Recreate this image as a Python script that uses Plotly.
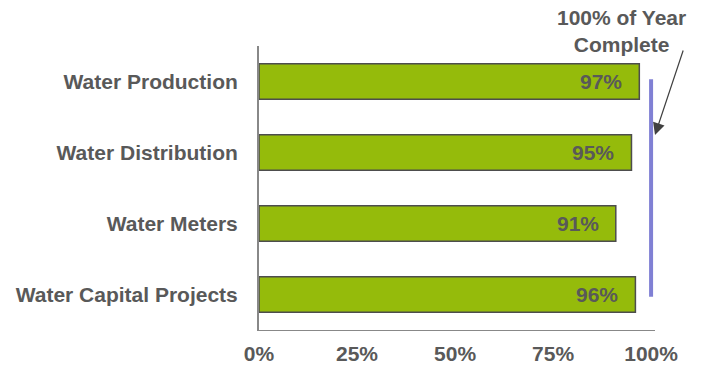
import plotly.graph_objects as go

categories = ["Water Production", "Water Distribution", "Water Meters", "Water Capital Projects"]
values = [97, 95, 91, 96]
tick_vals = [0, 25, 50, 75, 100]
tick_text = ["0%", "25%", "50%", "75%", "100%"]
year_complete = 100

FONT = "Liberation Sans, Arial, Helvetica, sans-serif"
GREY = "#595959"

L, R, T, B = 259, 52, 46, 41
PW, PH = 707 - L - R, 371 - T - B

fig = go.Figure()
fig.add_trace(go.Bar(
    y=categories, x=values, orientation="h", width=0.5,
    marker=dict(color="#95bb0b", line=dict(color="#4d4d4d", width=1.5)),
    hoverinfo="skip",
))

for c, v in zip(categories, values):
    fig.add_annotation(x=v, y=c, text=f"{v}%", showarrow=False, xanchor="right",
                       xshift=-15, font=dict(family=FONT, size=21, color=GREY, weight="bold"))

# 100% of year line
fig.add_shape(type="line", x0=year_complete, x1=year_complete, y0=-0.03, y1=3.03,
              xref="x", yref="y", line=dict(color="#8080d4", width=4))

fig.add_annotation(x=(655 - L) / PW, y=(330 - 135) / PH, xref="paper", yref="paper", text=" ",
                   showarrow=True, ax=29, ay=-87, arrowhead=2, arrowsize=2, arrowwidth=1.2,
                   arrowcolor="#404040", font=dict(size=2))
fig.add_annotation(x=(621 - L) / PW, y=(330 - 31) / PH, xref="paper", yref="paper",
                   xanchor="center", yanchor="middle", text="100% of Year<br>Complete",
                   showarrow=False, font=dict(family=FONT, size=21, color=GREY, weight="bold"))

fig.update_layout(
    width=707, height=371,
    margin=dict(l=L, r=R, t=T, b=B, autoexpand=False),
    plot_bgcolor="white", paper_bgcolor="white",
    showlegend=False,
    font=dict(family=FONT, size=21, color=GREY, weight="bold"),
    xaxis=dict(range=[0, 101], tickvals=tick_vals, ticktext=tick_text, showgrid=False,
               zeroline=False, showline=True, linecolor="#888888", linewidth=1,
               ticks="outside", ticklen=5, tickcolor="rgba(0,0,0,0)", automargin=False,
               tickfont=dict(family=FONT, size=21, color=GREY, weight="bold")),
    yaxis=dict(categoryorder="array", categoryarray=categories[::-1], range=[-0.5, 3.5],
               showgrid=False, zeroline=False, showline=True, linecolor="#888888", linewidth=2,
               ticks="", ticklabelstandoff=15, automargin=False,
               tickfont=dict(family=FONT, size=21, color=GREY, weight="bold")),
)

fig.write_html("out.html")
